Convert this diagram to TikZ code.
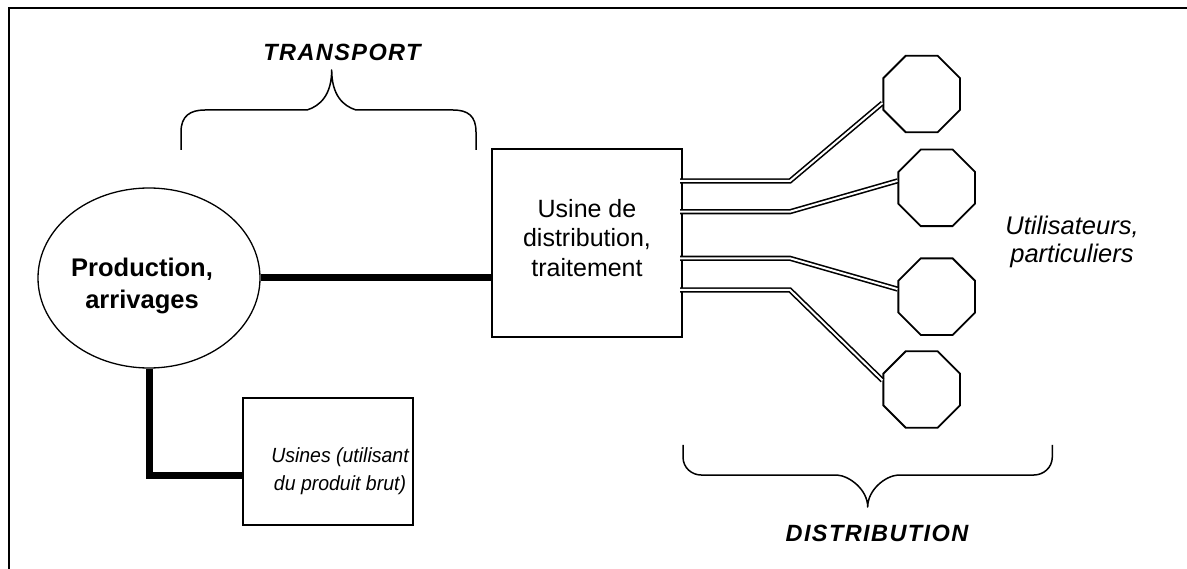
\documentclass[tikz,border=0pt]{standalone}
\usepackage{fontspec}
\setmainfont{Liberation Sans}
\usetikzlibrary{shapes.geometric,calc}
\begin{document}
\begin{tikzpicture}[x=1pt,y=-1pt,
  box/.style={draw,line width=1.8pt,inner sep=0pt},
  octo/.style={draw,line width=1.8pt,regular polygon,regular polygon sides=8,minimum size=83pt,inner sep=0pt},
  thickline/.style={line width=7pt,line join=miter},
  pipe/.style={double,line width=1.6pt,double distance=2pt,line join=miter},
  brace/.style={line width=1.5pt,line join=round},
  txt/.style={font=\fontsize{25}{29.5}\selectfont,align=center,inner sep=0pt},
  ital/.style={font=\fontsize{20.5}{28}\selectfont\itshape\addfontfeature{FakeStretch=0.95},align=center,inner sep=0pt},
  bigl/.style={font=\fontsize{23.5}{26}\selectfont\bfseries\itshape\addfontfeature{LetterSpace=6},inner sep=0pt}
]
\useasboundingbox (0,0) rectangle (1187,569);
\fill[white] (0,0) rectangle (1187,569);
% frame
\draw[line width=2pt] (8.5,569) -- (8.5,8.5) -- (1187,8.5);

% nodes
\node[draw,line width=1.3pt,ellipse,minimum width=222pt,minimum height=180pt,inner sep=0pt] (prod) at (149,278) {};
\node[font=\fontsize{25.5}{32}\selectfont\bfseries,align=center,inner sep=0pt] (prodt) at (142,286) {Production,\\arrivages};

\node[box,minimum width=170pt,minimum height=127pt] (box2) at (328,461.5) {};
\node[ital] (box2t) at (340,471) {Usines (utilisant\\du produit brut)};

\node[box,minimum width=190pt,minimum height=188pt] (box1) at (587,243) {};
\node[txt] (box1t) at (587,238) {Usine de\\distribution,\\traitement};

\node[octo] (o1) at (921.7,94) {};
\node[octo] (o2) at (936.7,187.8) {};
\node[octo] (o3) at (936.7,296.7) {};
\node[octo] (o4) at (921.7,389.5) {};

\node[font=\fontsize{25.5}{27.5}\selectfont\itshape,align=center,inner sep=0pt] (users) at (1072,242) {Utilisateurs,\\particuliers};

\node[bigl] (transport) at (342,52) {TRANSPORT};
\node[bigl] (distrib) at (877,533) {DISTRIBUTION};

% thick connectors
\draw[thickline] (prod.east) -- (prod.east -| box1.west);
\coordinate (kink) at (149,475);
\draw[thickline] (prod.south) -- (kink) -- (kink -| box2.west);

% pipes
\coordinate (s1) at (680,181);
\coordinate (s2) at (680,211.7);
\coordinate (s3) at (680,258.3);
\coordinate (s4) at (680,290);
\draw[pipe] (s1) -- ++(110,0) -- (o1.193);
\draw[pipe] (s2) -- ++(110,0) -- (o2.170);
\draw[pipe] (s3) -- ++(110,0) -- (o3.169);
\draw[pipe] (s4) -- ++(110,0) -- (o4.167.5);

% braces
\draw[brace] (181,150) -- (181,132) .. controls (181,116) and (190,110) .. (205,110)
  -- (307,110) .. controls (320,106) and (331.7,95) .. (331.7,70)
  .. controls (331.7,95) and (343,106) .. (356,110)
  -- (453,110) .. controls (468,110) and (476,116) .. (476,132) -- (476,150);
\draw[brace] (683,445) -- (683,457) .. controls (683,468) and (692,475) .. (701,475)
  -- (837,475) .. controls (850,476) and (867.7,490) .. (867.7,507)
  .. controls (867.7,490) and (885,476) .. (898,475)
  -- (1034,475) .. controls (1043,475) and (1052.3,468) .. (1052.3,457) -- (1052.3,445);
\end{tikzpicture}
\end{document}
